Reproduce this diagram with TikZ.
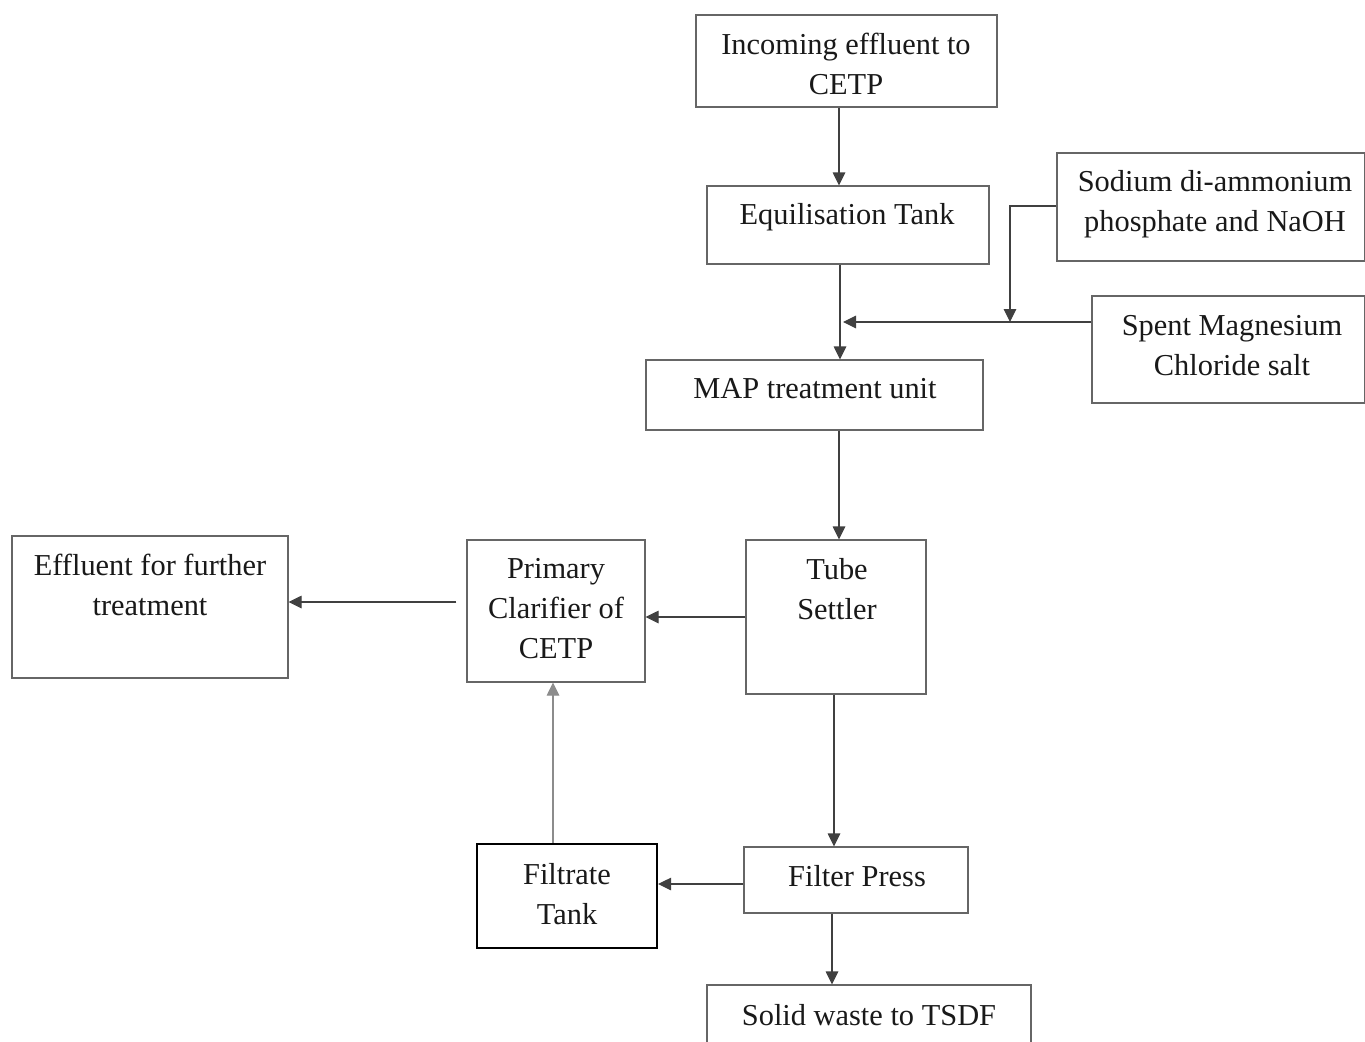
\documentclass[tikz,border=0pt]{standalone}
\usepackage{fontspec}
\setmainfont{Liberation Serif}
\usetikzlibrary{arrows.meta}
\begin{document}
\begin{tikzpicture}[x=0.02cm,y=-0.02cm,
  box/.style={draw=black!60,line width=0.6pt,rectangle,inner sep=0pt},
  thickbox/.style={draw=black,line width=1.2pt,rectangle,inner sep=0pt},
  txt/.style={font=\fontsize{17.3}{22.8}\selectfont,align=center,inner sep=0pt,text=black!90},
  arr/.style={draw=black!75,line width=0.6pt,-{Triangle[length=0.26cm,width=0.25cm]}}]
\clip (0,0) rectangle (1365,1041);
\fill[white] (0,0) rectangle (1365,1041);
% boxes
\node[box,minimum width=301*0.02cm,minimum height=92*0.02cm] (inc) at (846.5,61) {};
\node[txt] at (846,64) {Incoming effluent to\\CETP};
\node[box,minimum width=282*0.02cm,minimum height=78*0.02cm] (eq) at (848,225) {};
\node[txt] at (847,217) {Equilisation Tank};
\node[box,minimum width=308*0.02cm,minimum height=108*0.02cm] (sod) at (1211,207) {};
\node[txt] at (1215,204) {Sodium di-ammonium\\phosphate and NaOH};
\node[box,minimum width=273*0.02cm,minimum height=107*0.02cm] (mg) at (1228.5,349.5) {};
\node[txt] at (1232,346) {Spent Magnesium\\Chloride salt};
\node[box,minimum width=337*0.02cm,minimum height=70*0.02cm] (map) at (814.5,395) {};
\node[txt] at (815,389) {MAP treatment unit};
\node[box,minimum width=180*0.02cm,minimum height=154*0.02cm] (ts) at (836,617) {};
\node[txt] at (837,589) {Tube\\Settler};
\node[box,minimum width=178*0.02cm,minimum height=142*0.02cm] (pc) at (556,611) {};
\node[txt] at (556,609) {Primary\\Clarifier of\\CETP};
\node[box,minimum width=276*0.02cm,minimum height=142*0.02cm] (eff) at (150,607) {};
\node[txt] at (150,585) {Effluent for further\\treatment};
\node[thickbox,minimum width=180*0.02cm,minimum height=104*0.02cm] (ft) at (567,896) {};
\node[txt] at (567,894) {Filtrate\\Tank};
\node[box,minimum width=224*0.02cm,minimum height=66*0.02cm] (fp) at (856,880) {};
\node[txt] at (857,876) {Filter Press};
\node[box,minimum width=324*0.02cm,minimum height=76*0.02cm] (sw) at (869,1023) {};
\node[txt] at (869,1015) {Solid waste to TSDF};
% helper coordinates
\coordinate (c1) at (839,0);
\coordinate (c2) at (840,0);
\coordinate (j) at (843,322);
\coordinate (s) at (1010,206);
\coordinate (h1) at (0,617);
\coordinate (h2) at (0,602);
\coordinate (v3) at (834,0);
\coordinate (h3) at (0,884);
\coordinate (v4) at (553,0);
\coordinate (v5) at (832,0);
% connectors
\draw[arr] (inc.south -| c1) -- (eq.north -| c1);
\draw[arr] (eq.south -| c2) -- (map.north -| c2);
\draw[arr] (mg.west |- j) -- (j);
\draw[arr] (sod.west |- s) -- (s) -- (s |- j);
\draw[arr] (map.south -| c1) -- (ts.north -| c1);
\draw[arr] (ts.west |- h1) -- (pc.east |- h1);
\draw[arr,shorten <=0.2cm] (pc.west |- h2) -- (eff.east |- h2);
\draw[arr] (ts.south -| v3) -- (fp.north -| v3);
\draw[arr] (fp.west |- h3) -- (ft.east |- h3);
\draw[arr,draw=black!45] (ft.north -| v4) -- (pc.south -| v4);
\draw[arr] (fp.south -| v5) -- (sw.north -| v5);
\end{tikzpicture}
\end{document}
